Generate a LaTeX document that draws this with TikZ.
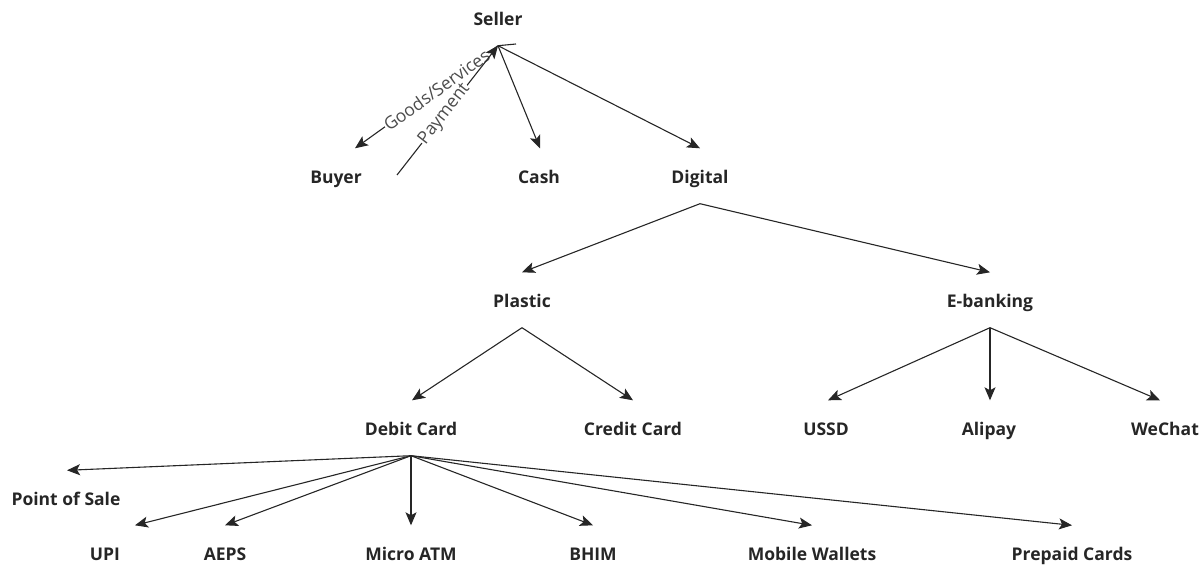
\documentclass[tikz,border=0pt]{standalone}
\usepackage{fontspec}
\setmainfont{Open Sans}
\usetikzlibrary{arrows.meta}
\begin{document}
\begin{tikzpicture}[x=1pt,y=-1pt,
  lbl/.style={font=\bfseries\fontsize{17.5}{20}\selectfont, text=black!85, inner sep=0pt, text height=17.5pt, text depth=3.5pt, minimum height=55pt},
  conn/.style={line width=1.1pt, black!85, -{Stealth[length=13pt,width=11pt,inset=3pt]}},
  plain/.style={line width=1.1pt, black!85},
  elbl/.style={font=\fontsize{17.5}{20}\selectfont, text=black!70, fill=white, inner sep=0.5pt}]
\useasboundingbox (0,0) rectangle (1204,565);
\node[lbl] (seller) at (498,18) {Seller};
\node[lbl] (buyer) at (336,176) {Buyer};
\node[lbl] (cash) at (539,176) {Cash};
\node[lbl] (digital) at (700,176) {Digital};
\node[lbl] (plastic) at (522,300) {Plastic};
\node[lbl] (ebank) at (990,300) {E-banking};
\node[lbl] (debit) at (411,428) {Debit Card};
\node[lbl] (credit) at (633,428) {Credit Card};
\node[lbl] (ussd) at (826,428) {USSD};
\node[lbl] (alipay) at (989,428) {Alipay};
\node[lbl] (wechat) at (1165,428) {WeChat};
\node[lbl] (pos) at (66,498) {Point of Sale};
\node[lbl] (upi) at (105,553) {UPI};
\node[lbl] (aeps) at (225,553) {AEPS};
\node[lbl] (matm) at (411,553) {Micro ATM};
\node[lbl] (bhim) at (593,553) {BHIM};
\node[lbl] (mw) at (812,553) {Mobile Wallets};
\node[lbl] (prep) at (1072,553) {Prepaid Cards};
\coordinate (paystart) at (397,175);
\coordinate (stub) at (516,44);
% Seller edges
\draw[conn] (seller.south) -- node[elbl, sloped, pos=0.43] {Goods/Services} ([xshift=19pt]buyer.north);
\draw[conn] (paystart) -- node[elbl, sloped, pos=0.47] {Payment} (seller.south);
\draw[plain] (seller.south) -- (stub);
\draw[conn] (seller.south) -- ([xshift=1pt]cash.north);
\draw[conn] (seller.south) -- (digital.north);
% Digital
\draw[conn] (digital.south) -- (plastic.north);
\draw[conn] (digital.south) -- (ebank.north);
% Plastic
\draw[conn] (plastic.south) -- ([xshift=1pt]debit.north);
\draw[conn] (plastic.south) -- (credit.north);
% E-banking
\draw[conn] (ebank.south) -- ([xshift=2pt]ussd.north);
\draw[conn] (ebank.south) -- ([xshift=1pt]alipay.north);
\draw[conn] (ebank.south) -- ([xshift=-5pt]wechat.north);
% Debit card
\draw[conn] (debit.south) -- ([xshift=1pt]pos.north);
\draw[conn] (debit.south) -- ([xshift=30pt]upi.north);
\draw[conn] (debit.south) -- (aeps.north);
\draw[conn] (debit.south) -- (matm.north);
\draw[conn] (debit.south) -- (bhim.north);
\draw[conn] (debit.south) -- (mw.north);
\draw[conn] (debit.south) -- (prep.north);
\end{tikzpicture}
\end{document}
